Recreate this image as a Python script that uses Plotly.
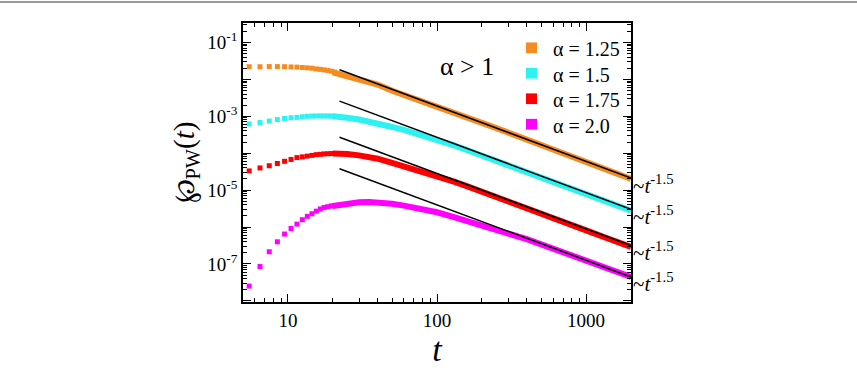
import math
import plotly.graph_objects as go

# ---------------- data ----------------
t_early = [5.5, 6.5, 7.5, 8.5, 9.5, 10.5, 11.5, 12.5, 13.5, 14.5, 15.5, 16.5, 17.5, 18.5, 19.5, 20.5]
t_late = [20, 22, 25, 30, 35, 40, 50, 60, 70, 80, 100, 130, 160, 200, 250, 300, 400, 500, 700, 1000, 1400, 2000]

labels = ["α = 1.25", "α = 1.5", "α = 1.75", "α = 2.0"]
colors = ["#F68B1F", "#2EF2F2", "#FF0000", "#FF00FF"]

p125_early = [2.19e-2, 2.19e-2, 2.21e-2, 2.21e-2, 2.19e-2, 2.16e-2, 2.14e-2, 2.09e-2,
              2.04e-2, 2.00e-2, 1.91e-2, 1.86e-2, 1.80e-2, 1.74e-2, 1.66e-2, 1.58e-2]
p150_early = [6.17e-4, 6.76e-4, 7.41e-4, 8.13e-4, 8.71e-4, 9.12e-4, 9.33e-4, 9.66e-4,
              1.00e-3, 1.01e-3, 1.02e-3, 1.02e-3, 1.02e-3, 1.02e-3, 1.01e-3, 1.00e-3]
p175_early = [3.31e-5, 3.98e-5, 4.57e-5, 5.25e-5, 6.03e-5, 6.76e-5, 7.59e-5, 7.94e-5,
              8.32e-5, 8.71e-5, 9.12e-5, 9.33e-5, 9.55e-5, 9.66e-5, 9.77e-5, 9.77e-5]
p200_early = [2.51e-8, 8.51e-8, 2.14e-7, 3.98e-7, 6.46e-7, 9.12e-7, 1.20e-6, 1.58e-6,
              1.95e-6, 2.29e-6, 2.69e-6, 3.09e-6, 3.39e-6, 3.55e-6, 3.72e-6, 3.80e-6]

p125_late = [1.55e-2, 1.41e-2, 1.26e-2, 1.05e-2, 8.71e-3, 7.24e-3, 4.90e-3, 3.72e-3, 2.95e-3, 2.45e-3, 1.82e-3,
             1.23e-3, 9.12e-4, 6.61e-4, 4.79e-4, 3.63e-4, 2.34e-4, 1.66e-4, 1.00e-4, 5.89e-5, 3.55e-5, 2.00e-5]
p150_late = [1.00e-3, 9.77e-4, 9.12e-4, 8.13e-4, 7.24e-4, 6.46e-4, 5.13e-4, 4.27e-4, 3.55e-4, 3.09e-4, 2.34e-4,
             1.62e-4, 1.20e-4, 8.71e-5, 6.31e-5, 4.79e-5, 3.09e-5, 2.19e-5, 1.32e-5, 7.76e-6, 4.68e-6, 2.75e-6]
p175_late = [9.77e-5, 9.77e-5, 9.55e-5, 8.71e-5, 7.94e-5, 7.08e-5, 5.50e-5, 4.47e-5, 3.72e-5, 3.16e-5, 2.51e-5,
             1.70e-5, 1.26e-5, 9.12e-6, 6.61e-6, 4.90e-6, 3.16e-6, 2.29e-6, 1.38e-6, 8.13e-7, 4.90e-7, 2.88e-7]
p200_late = [3.72e-6, 3.98e-6, 4.27e-6, 4.68e-6, 4.79e-6, 4.68e-6, 4.27e-6, 3.80e-6, 3.39e-6, 3.02e-6, 2.51e-6,
             1.86e-6, 1.45e-6, 1.10e-6, 8.71e-7, 6.92e-7, 4.68e-7, 3.39e-7, 2.09e-7, 1.23e-7, 7.59e-8, 4.47e-8]

# power-law guide lines ~ t^-1.5
fit_t = [22.2, 2000]
fit_125 = [1.81e-2, 2.11e-5]
fit_150 = [2.57e-3, 3.01e-6]
fit_175 = [2.69e-4, 3.15e-7]
fit_200 = [3.80e-5, 4.45e-8]
fit_label = "~<i>t</i><sup>-1.5</sup>"

y_tickvals = [1e-8, 1e-7, 1e-6, 1e-5, 1e-4, 1e-3, 1e-2, 1e-1]
y_ticktext = ["", "10<sup>-7</sup>", "", "10<sup>-5</sup>", "", "10<sup>-3</sup>", "", "10<sup>-1</sup>"]
x_tickvals = [10, 100, 1000]
x_ticktext = ["10", "100", "1000"]

# ---------------- figure ----------------
FONT = "Liberation Serif"
W, H = 857, 370
ML, MR, MT, MB = 243, 226, 23, 60
PW, PH = W - ML - MR, H - MT - MB


def px_x(X):  # pixel -> paper x
    return (X - ML) / PW


def px_y(Y):  # pixel -> paper y
    return (H - MB - Y) / PH


fig = go.Figure()

early = [p125_early, p150_early, p175_early, p200_early]
late = [p125_late, p150_late, p175_late, p200_late]
fits = [fit_125, fit_150, fit_175, fit_200]

for lab, col, pe, pl in zip(labels, colors, early, late):
    fig.add_trace(go.Scatter(x=t_late, y=pl, mode="lines", name=lab,
                             line=dict(color=col, width=6), showlegend=False, hoverinfo="skip"))
    fig.add_trace(go.Scatter(x=t_early, y=pe, mode="markers", name=lab, showlegend=False,
                             marker=dict(color=col, size=5, symbol="square", line=dict(width=0))))

for f in fits:
    fig.add_trace(go.Scatter(x=fit_t, y=f, mode="lines",
                             line=dict(color="black", width=1.5), showlegend=False, hoverinfo="skip"))
    fig.add_annotation(x=1.0, xref="paper", y=math.log10(f[1]), yref="y",
                       text=fit_label, showarrow=False, xanchor="left", yanchor="middle",
                       xshift=0, yshift=-6, font=dict(family=FONT, size=21, color="black"))

# legend drawn as squares + labels
for i, (lab, col) in enumerate(zip(labels, colors)):
    cy = 48.5 + 26.2 * i
    fig.add_shape(type="rect", xref="paper", yref="paper",
                  x0=px_x(526), x1=px_x(537), y0=px_y(cy + 5.5), y1=px_y(cy - 5.5),
                  fillcolor=col, line=dict(width=0))
    fig.add_annotation(x=px_x(551), y=px_y(cy + 1.5), xref="paper", yref="paper", text=lab,
                       showarrow=False, xanchor="left", yanchor="middle",
                       font=dict(family=FONT, size=20, color="black"))

fig.add_annotation(x=0.577, y=0.902, xref="paper", yref="paper", text="α > 1",
                   showarrow=False, font=dict(family=FONT, size=26, color="black"))

# thin grey rule at the very top of the picture
fig.add_shape(type="line", xref="paper", yref="paper", x0=px_x(0), x1=px_x(W),
              y0=px_y(1.5), y1=px_y(1.5), line=dict(color="#9a9a9a", width=2))

axis_common = dict(showline=True, linecolor="black", linewidth=1.5, mirror="allticks",
                   ticks="inside", ticklen=8, tickwidth=1.2, tickcolor="black",
                   showgrid=False, zeroline=False,
                   tickfont=dict(family=FONT, size=19, color="black"),
                   minor=dict(ticks="inside", ticklen=4, tickwidth=1, tickcolor="black",
                              dtick="D1", showgrid=False))

fig.update_xaxes(type="log", range=[math.log10(5), math.log10(2000)],
                 tickmode="array", tickvals=x_tickvals, ticktext=x_ticktext,
                 title=dict(text="<i>t</i>", font=dict(family=FONT, size=34, color="black"), standoff=4),
                 **axis_common)
fig.update_yaxes(type="log", range=[-8.03, -0.475],
                 tickmode="array", tickvals=y_tickvals, ticktext=y_ticktext,
                 title=dict(text="℘<sub>PW</sub>(<i>t</i>)", font=dict(family=FONT, size=29, color="black"),
                            standoff=4),
                 **axis_common)

fig.update_layout(
    width=W, height=H,
    margin=dict(l=ML, r=MR, t=MT, b=MB),
    paper_bgcolor="white", plot_bgcolor="white",
    font=dict(family=FONT),
    showlegend=False,
)

fig.write_html("out.html")
